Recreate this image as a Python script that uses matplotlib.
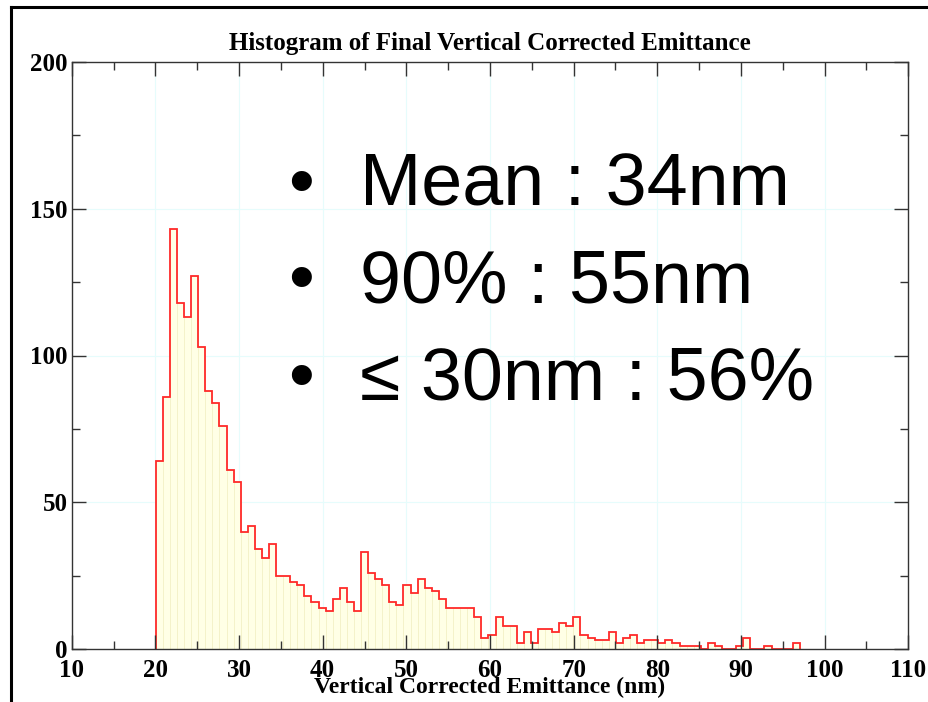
import numpy as np
import matplotlib
matplotlib.use("Agg")
import matplotlib.pyplot as plt
from matplotlib.lines import Line2D

# histogram counts, one per bin
counts = [64, 86, 143, 118, 113, 127, 103, 88, 84, 76,
          61, 57, 40, 42, 34, 31, 36, 25, 25, 23,
          22, 18, 16, 14, 13, 17, 21, 16, 13, 33,
          26, 24, 22, 16, 15, 22, 19, 24, 21, 20,
          17, 14, 14, 14, 14, 11, 4, 5, 11, 8,
          8, 2, 6, 2, 7, 7, 6, 9, 8, 11,
          5, 4, 3, 3, 6, 2, 4, 5, 2, 3,
          3, 2, 3, 2, 1, 1, 1, 0, 2, 1,
          0, 0, 1, 4, 0, 0, 1, 0, 0, 0,
          2]
bin_start = 20.05
bin_width = 0.846

title = "Histogram of Final Vertical Corrected Emittance"
xlabel = "Vertical Corrected Emittance (nm)"
bullets = ["Mean : 34nm", "90% : 55nm", "\u2264 30nm : 56%"]

xticks = np.arange(10, 111, 10)
yticks = np.arange(0, 201, 50)

W, H = 929, 702
fig = plt.figure(figsize=(W / 100, H / 100), dpi=100)
ax = fig.add_axes([71.7 / W, 1 - 649.3 / H, (908.3 - 71.7) / W, (649.3 - 61.7) / H])

edges = bin_start + bin_width * np.arange(len(counts) + 1)
ax.bar(edges[:-1], counts, width=bin_width, align="edge", color="#ffffe6",
       edgecolor="#f4f1c8", linewidth=0.6, zorder=2)
ax.stairs(counts, edges, color="#ff2a2a", linewidth=1.3, zorder=2.2)

# faint grid behind the bars
for x in xticks[1:-1]:
    ax.axvline(x, color="#e6fcfc", lw=0.8, zorder=0.5)
for y in yticks[1:-1]:
    ax.axhline(y, color="#e6fcfc", lw=0.8, zorder=0.5)

ax.set_xlim(10, 110)
ax.set_ylim(0, 200)
ax.set_xticks(xticks)
ax.set_yticks(yticks)
ax.set_xticks(np.arange(15, 110, 10), minor=True)
ax.set_yticks(np.arange(25, 200, 50), minor=True)
ax.set_axisbelow(False)
ax.tick_params(which="both", direction="in", top=True, right=True,
               color="#333333", width=1.0)
ax.tick_params(which="major", length=10)
ax.tick_params(which="minor", length=5.5)
ax.tick_params(axis="x", pad=7)
ax.tick_params(axis="y", pad=3)
for lab in ax.get_xticklabels() + ax.get_yticklabels():
    lab.set_fontfamily("Liberation Serif")
    lab.set_fontweight("bold")
    lab.set_fontsize(18)
for s in ax.spines.values():
    s.set_color("#333333")
    s.set_linewidth(1.0)

ax.set_xlabel(xlabel, fontfamily="Liberation Serif", fontweight="bold", fontsize=17)
ax.xaxis.set_label_coords(0.5, -0.047)

fig.text(490 / W, 1 - 50 / H, title, ha="center", va="baseline",
         fontfamily="Liberation Serif", fontweight="bold", fontsize=18)

baselines = [205.7, 302.5, 399.5]
for txt, yb in zip(bullets, baselines):
    fig.text(301 / W, 1 - yb / H, "\u2022", ha="center", va="baseline",
             family=["Liberation Sans", "DejaVu Sans"], fontsize=53)
    fig.text(360 / W, 1 - yb / H, txt, ha="left", va="baseline",
             family=["Liberation Sans", "DejaVu Sans"], fontsize=53)

# black frame on left and top of the slide
fig.add_artist(Line2D([11.3 / W, 11.3 / W], [0, 1 - 7.3 / H], transform=fig.transFigure,
                      color="black", lw=2.2))
fig.add_artist(Line2D([11.3 / W, 1], [1 - 7.3 / H, 1 - 7.3 / H], transform=fig.transFigure,
                      color="black", lw=2.2))

fig.savefig("out.png", dpi=100)
